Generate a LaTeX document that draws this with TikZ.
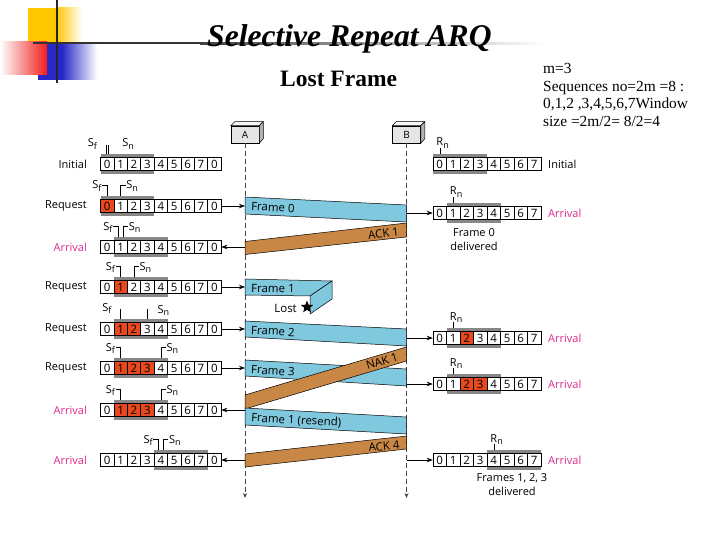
\documentclass[tikz,border=0pt]{standalone}
\usepackage{fontspec}
\setmainfont{Liberation Serif}
\newfontfamily\dsans{Open Sans}
\usetikzlibrary{arrows.meta,shapes.geometric}
\definecolor{bandblue}{RGB}{128,200,222}
\definecolor{bandorange}{RGB}{200,135,68}
\definecolor{redc}{RGB}{232,72,28}
\definecolor{wingray}{RGB}{135,135,135}
\definecolor{pinkc}{RGB}{220,40,140}
\definecolor{gold}{RGB}{255,200,0}
\definecolor{logoblue}{RGB}{40,40,200}
\definecolor{logored}{RGB}{240,30,30}
\newcommand\SX[1]{107.2+13.4*(#1)}
\newcommand\RX[1]{439.75+13.5*(#1)}
\newcommand\subl[2]{#1\raisebox{-0.5ex}{\fontsize{9}{9}\selectfont #2}}
\newcommand\SRow[4]{%
  \fill[wingray] ({\SX{#3}-6.7},{#2-10}) rectangle ({\SX{#3+3}+6.7},{#2+10});
  \foreach \vv [count=\kk from 0] in {0,1,2,3,4,5,6,7,0}{%
    \gdef\cellfill{white}%
    \foreach \rr in {#4}{\ifnum\rr=\kk\relax\gdef\cellfill{redc}\fi}%
    \node[cell,fill=\cellfill] (#1c\kk) at ({\SX{\kk}},#2) {\vv};}%
}
\newcommand\RRow[4]{%
  \fill[wingray] ({\RX{#3}-6.75},{#2-10}) rectangle ({\RX{#3+3}+6.75},{#2+10});
  \foreach \vv [count=\kk from 0] in {0,1,2,3,4,5,6,7}{%
    \gdef\cellfill{white}%
    \foreach \rr in {#4}{\ifnum\rr=\kk\relax\gdef\cellfill{redc}\fi}%
    \node[rcell,fill=\cellfill] (#1c\kk) at ({\RX{\kk}},#2) {\vv};}%
}
\newcommand\SfHook[3]{%
  \draw[mk] ({#3-5},{#2-21}) -- ({#3},{#2-21}) -- ({#3},{#2-10});
  \node[sub,anchor=base east] (#1) at ({#3-5.5},{#2-17}) {\subl{S}{f}};}
\newcommand\SnHook[3]{%
  \draw[mk] ({#3},{#2-10}) -- ({#3},{#2-21}) -- ({#3+5},{#2-21});
  \node[sub,anchor=base west] (#1) at ({#3+5.5},{#2-17}) {\subl{S}{n}};}
\newcommand\SfStraight[3]{%
  \draw[mk] ({#3},{#2-10}) -- ({#3},{#2-20});
  \node[sub,anchor=base east] (#1) at ({#3-9},{#2-18}) {\subl{S}{f}};}
\newcommand\SnStraight[3]{%
  \draw[mk] ({#3},{#2-10}) -- ({#3},{#2-20});
  \node[sub,anchor=base west] (#1) at ({#3+10},{#2-16}) {\subl{S}{n}};}
\newcommand\SDouble[4]{%
  \draw[mk] ({#4-1.2},{#3-10}) -- ({#4-1.2},{#3-19});
  \draw[mk] ({#4+1.2},{#3-10}) -- ({#4+1.2},{#3-19});
  \node[sub,anchor=base east] (#1) at ({#4-10},{#3-17}) {\subl{S}{f}};
  \node[sub,anchor=base west] (#2) at ({#4+15},{#3-17}) {\subl{S}{n}};}
\newcommand\RnMark[3]{%
  \draw[mk] ({#3},{#2-10}) -- ({#3},{#2-16});
  \node[sub,anchor=base west] (#1) at ({#3-3.5},{#2-18}) {\subl{R}{n}};}
\begin{document}
\begin{tikzpicture}[x=1pt,y=-1pt,
  cell/.style={draw=black,line width=0.5pt,minimum width=13.4pt,minimum height=13pt,inner sep=0pt,font=\dsans\fontsize{11.5}{11.5}\selectfont},
  rcell/.style={cell,minimum width=13.5pt},
  lbl/.style={font=\dsans\fontsize{11}{11}\selectfont,inner sep=0pt},
  arrlbl/.style={lbl,text=pinkc},
  sub/.style={font=\dsans\fontsize{11}{11}\selectfont,inner sep=0pt},
  mk/.style={line width=0.5pt},
  arr/.style={line width=0.7pt,-{Stealth[length=6pt,width=4.5pt]}},
  band/.style={draw=black,line width=0.5pt},
  bandtxt/.style={font=\dsans\fontsize{11.5}{11.5}\selectfont,inner sep=0pt},
  life/.style={line width=0.9pt,dash pattern=on 5pt off 3pt,draw=black!75},
  boxnode/.style={draw=black,line width=0.5pt,fill=gray!20,minimum width=28pt,minimum height=17pt,inner sep=0pt,font=\dsans\fontsize{10}{10}\selectfont},
  serift/.style={inner sep=0pt,font=\fontsize{15.4}{15.4}\selectfont},
]
\useasboundingbox (0,0) rectangle (720,540);
% logo
\fill[gold] (28,8) rectangle (56,42);
\shade[left color=gold,right color=white] (56,8) rectangle (82,42);
\fill[logoblue] (38,43) rectangle (62,80);
\shade[left color=logoblue,right color=white] (62,43) rectangle (97,80);
\shade[left color=white,right color=logored] (0,42) rectangle (47,75);
\fill[black!80] (33,42.3) rectangle (200,44.3);
\shade[left color=black!75,right color=white] (200,42.3) rectangle (545,44.3);
\draw[line width=1.6pt,black!85] (57,0) -- (57,83);
% titles
\node[anchor=base west,inner sep=0pt,font=\fontsize{31.6}{31.6}\selectfont\bfseries\itshape] (title) at (207,47) {Selective Repeat ARQ};
\node[anchor=base west,inner sep=0pt,font=\fontsize{23.5}{23.5}\selectfont\bfseries] (subtitle) at (280,87) {Lost Frame};
\node[serift,anchor=base west] (n1) at (543,74) {m=3};
\node[serift,anchor=base west] (n2) at (543,91.5) {Sequences no=2m =8 :};
\node[serift,anchor=base west] (n3) at (543,109) {0,1,2 ,3,4,5,6,7Window};
\node[serift,anchor=base west] (n4) at (543,126.5) {size =2m/2= 8/2=4};
% stations
\node[boxnode] (A) at (245,134.5) {A};
\filldraw[fill=gray!8,line width=0.5pt] (A.north west) -- ++(4,-4) -- ++(28,0) -- (A.north east) -- cycle;
\filldraw[fill=gray!60,line width=0.5pt] (A.north east) -- ++(4,-4) -- ++(0,17) -- (A.south east) -- cycle;
\node[boxnode] (B) at (406.5,134.5) {B};
\filldraw[fill=gray!8,line width=0.5pt] (B.north west) -- ++(4,-4) -- ++(28,0) -- (B.north east) -- cycle;
\filldraw[fill=gray!60,line width=0.5pt] (B.north east) -- ++(4,-4) -- ++(0,17) -- (B.south east) -- cycle;
\coordinate (Aend) at (245,498);
\coordinate (Bend) at (406.5,498);
\draw[life,-{Stealth[length=5pt,width=4pt]}] (A.south) -- (Aend);
\draw[life,-{Stealth[length=5pt,width=4pt]}] (B.south) -- (Bend);
% bands
\filldraw[band,fill=bandblue] (245,197) -- (406.5,205) -- (406.5,222) -- (245,214) -- cycle;
\node[bandtxt,anchor=west,rotate=-2.8] (f0) at (251,206.3) {Frame 0};
\filldraw[band,fill=bandorange] (406.5,223) -- (406.5,237) -- (245,254.5) -- (245,241.5) -- cycle;
\node[bandtxt,anchor=east,rotate=6.5] (ack1) at (399,232) {ACK 1};
\filldraw[band,fill=bandblue] (245,279) -- (332,281) -- (310,296) -- (245,295) -- cycle;
\filldraw[band,fill=bandblue] (332,281) -- (332,299) -- (310,314) -- (310,296) -- cycle;
\node[bandtxt,anchor=west,rotate=-1] (f1) at (251,288) {Frame 1};
\node[bandtxt,anchor=east] (lost) at (297,308) {Lost};
\node[star,star points=5,star point ratio=2.3,fill=black,minimum size=13pt,inner sep=0pt] (lstar) at (307,307) {};
\filldraw[band,fill=bandblue] (245,321) -- (406.5,329) -- (406.5,346) -- (245,337) -- cycle;
\node[bandtxt,anchor=west,rotate=-3] (f2) at (251,330) {Frame 2};
\filldraw[band,fill=bandblue] (245,360) -- (406.5,369) -- (406.5,386) -- (245,376) -- cycle;
\node[bandtxt,anchor=west,rotate=-3.2] (f3) at (251,369.5) {Frame 3};
\filldraw[band,fill=bandorange] (406.5,347) -- (406.5,361) -- (245,409) -- (245,395) -- cycle;
\node[bandtxt,rotate=16.6] (nak1) at (382,361) {NAK 1};
\filldraw[band,fill=bandblue] (245,408) -- (406.5,417) -- (406.5,434) -- (245,425) -- cycle;
\node[bandtxt,anchor=west,rotate=-3.2] (f1r) at (251,418) {Frame 1 (resend)};
\filldraw[band,fill=bandorange] (406.5,436) -- (406.5,449) -- (245,467) -- (245,454) -- cycle;
\node[bandtxt,rotate=6.4] (ack4) at (384,446) {ACK 4};
% sender rows
\SRow{s1}{164}{0}{-1}
\node[lbl,anchor=east] (sl1) at (87,164) {Initial};
\SDouble{s1f}{s1n}{164}{\SX{0}}
\SRow{s2}{206}{0}{0}
\node[lbl,anchor=east] (sl2) at (87,206) {Request};
\SfHook{s2f}{206}{\SX{0}}
\SnHook{s2n}{206}{\SX{1}}
\coordinate (A2) at (245,206);
\draw[arr] (s2c8.east) -- (A2);
\SRow{s3}{247}{1}{-1}
\node[arrlbl,anchor=east] (sl3) at (87,247) {Arrival};
\SfHook{s3f}{247}{\SX{1}-2.5}
\SnHook{s3n}{247}{\SX{1}+2.5}
\coordinate (A3) at (245,247);
\draw[arr] (A3) -- (s3c8.east);
\SRow{s4}{287}{1}{1}
\node[lbl,anchor=east] (sl4) at (87,287) {Request};
\SfHook{s4f}{287}{\SX{1}}
\SnHook{s4n}{287}{\SX{2}}
\coordinate (A4) at (245,287);
\draw[arr] (s4c8.east) -- (A4);
\SRow{s5}{329}{1}{1,2}
\node[lbl,anchor=east] (sl5) at (87,329) {Request};
\SfStraight{s5f}{329}{\SX{1}}
\SnStraight{s5n}{329}{\SX{3}}
\coordinate (A5) at (245,329);
\draw[arr] (s5c8.east) -- (A5);
\SRow{s6}{368}{1}{1,2,3}
\node[lbl,anchor=east] (sl6) at (87,368) {Request};
\SfHook{s6f}{368}{\SX{1}}
\SnHook{s6n}{368}{\SX{4}}
\coordinate (A6) at (245,368);
\draw[arr] (s6c8.east) -- (A6);
\SRow{s7}{410}{1}{1,2,3}
\node[arrlbl,anchor=east] (sl7) at (87,410) {Arrival};
\SfHook{s7f}{410}{\SX{1}}
\SnHook{s7n}{410}{\SX{4}}
\coordinate (A7) at (245,410);
\draw[arr] (A7) -- (s7c8.east);
\SRow{s8}{460}{4}{-1}
\node[arrlbl,anchor=east] (sl8) at (87,460) {Arrival};
\SfHook{s8f}{460}{\SX{4}-2.5}
\SnHook{s8n}{460}{\SX{4}+2.5}
\coordinate (A8) at (245,460);
\draw[arr] (A8) -- (s8c8.east);
% receiver rows
\RRow{r1}{164}{0}{-1}
\RnMark{r1n}{164}{\RX{0}}
\node[lbl,anchor=west] (rl1) at (548,164) {Initial};
\RRow{r2}{213}{1}{-1}
\RnMark{r2n}{213}{\RX{1}}
\node[arrlbl,anchor=west] (rl2) at (548,213) {Arrival};
\node[lbl,align=center,font=\dsans\fontsize{11}{14}\selectfont] (d0) at (474,240) {Frame 0\\delivered};
\coordinate (B2) at (406.5,213);
\draw[arr] (B2) -- (r2c0.west);
\RRow{r3}{338}{1}{2}
\RnMark{r3n}{338}{\RX{1}}
\node[arrlbl,anchor=west] (rl3) at (548,338) {Arrival};
\coordinate (B3) at (406.5,338);
\draw[arr] (B3) -- (r3c0.west);
\RRow{r4}{384}{1}{2,3}
\RnMark{r4n}{384}{\RX{1}}
\node[arrlbl,anchor=west] (rl4) at (548,384) {Arrival};
\coordinate (B4) at (406.5,384);
\draw[arr] (B4) -- (r4c0.west);
\RRow{r5}{460}{4}{-1}
\RnMark{r5n}{460}{\RX{4}}
\node[arrlbl,anchor=west] (rl5) at (548,460) {Arrival};
\node[lbl,align=center,font=\dsans\fontsize{11}{14}\selectfont] (d123) at (512,485) {Frames 1, 2, 3\\delivered};
\coordinate (B5) at (406.5,460);
\draw[arr] (B5) -- (r5c0.west);
\end{tikzpicture}
\end{document}
